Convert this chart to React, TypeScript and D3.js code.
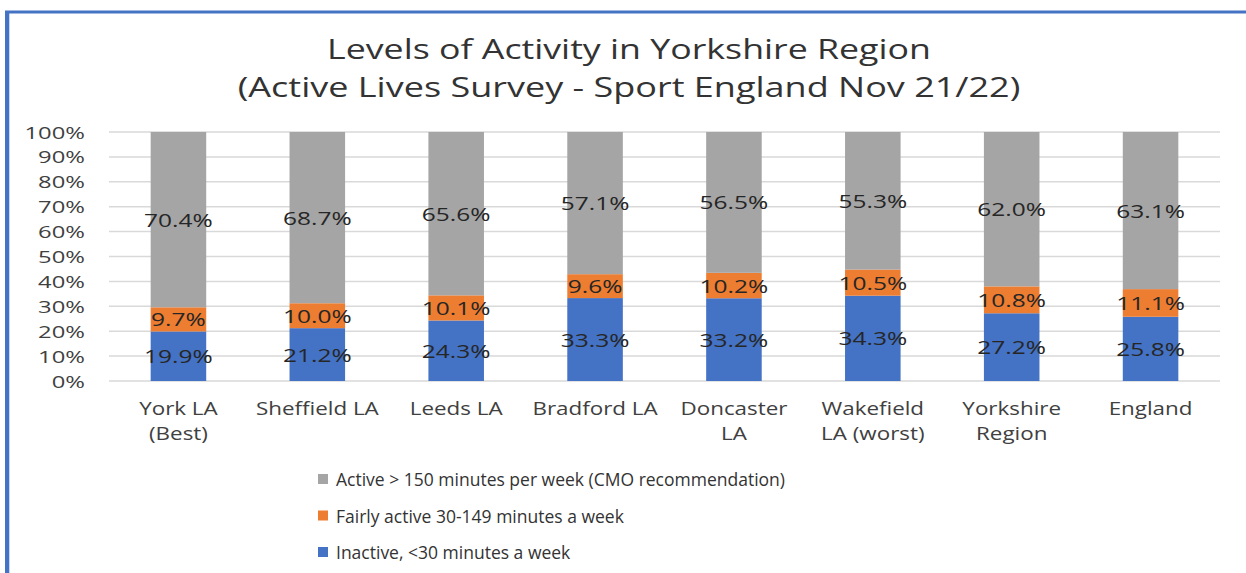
import * as d3 from 'd3';

// Levels of activity, Active Lives Survey (Sport England Nov 21/22)
const categories = [
  ['York LA', '(Best)'],
  ['Sheffield LA'],
  ['Leeds LA'],
  ['Bradford LA'],
  ['Doncaster', 'LA'],
  ['Wakefield', 'LA (worst)'],
  ['Yorkshire', 'Region'],
  ['England'],
];
const inactive = [19.9, 21.2, 24.3, 33.3, 33.2, 34.3, 27.2, 25.8];
const fairlyActive = [9.7, 10.0, 10.1, 9.6, 10.2, 10.5, 10.8, 11.1];
const active = [70.4, 68.7, 65.6, 57.1, 56.5, 55.3, 62.0, 63.1];
const yTicks = [0, 0.1, 0.2, 0.3, 0.4, 0.5, 0.6, 0.7, 0.8, 0.9, 1];

const seriesKeys = ['inactive', 'fairly', 'active'];
const seriesNames = {
  active: 'Active > 150 minutes per week (CMO recommendation)',
  fairly: 'Fairly active 30-149 minutes a week',
  inactive: 'Inactive, <30 minutes a week',
};
const colors = { inactive: '#4472c4', fairly: '#ed7d31', active: '#a5a5a5' };
const legendOrder = ['active', 'fairly', 'inactive'];

const W = 1246;
const H = 573;
const FONT = '"Open Sans", sans-serif';
const margin = { left: 109, right: 26, top: 132, bottom: 192 };

// stretched text like the original
const T = ({ x, y, sx = 1.3, size = 17, anchor = 'middle', fill = '#404040', children }) => (
  <text
    transform={`translate(${x},${y}) scale(${sx},1)`}
    textAnchor={anchor}
    dominantBaseline="central"
    fontFamily={FONT}
    fontSize={size}
    fill={fill}
  >
    {children}
  </text>
);

export default function App() {
  const rows = categories.map((c, i) => ({
    name: c.join(' '),
    inactive: inactive[i],
    fairly: fairlyActive[i],
    active: active[i],
  }));

  const stacked = d3.stack().keys(seriesKeys).offset(d3.stackOffsetExpand)(rows);

  const x = d3.scaleBand()
    .domain(rows.map(d => d.name))
    .range([margin.left, W - margin.right])
    .paddingInner(0.6)
    .paddingOuter(0.3);

  const y = d3.scaleLinear()
    .domain([0, 1])
    .range([H - margin.bottom, margin.top]);

  const fmt = d3.format('.0%');

  return (
    <div style={{ position: 'absolute', left: 0, top: 0 }}>
      <svg width={W} height={H} style={{ display: 'block', background: '#fff' }}>
        {/* frame */}
        <line x1={7} x2={7} y1={11} y2={H} stroke="#4472c4" strokeWidth={4} />
        <line x1={9.5} x2={9.5} y1={13} y2={H} stroke="#c9d6ef" strokeWidth={1} />
        <line x1={5} x2={W} y1={12} y2={12} stroke="#4472c4" strokeWidth={3} />

        {/* title */}
        <T x={629} y={48} size={27.5} sx={1.3} fill="#333">Levels of Activity in Yorkshire Region</T>
        <T x={629} y={86} size={27.5} sx={1.31} fill="#333">(Active Lives Survey - Sport England Nov 21/22)</T>

        {/* grid + y axis */}
        {yTicks.map(t => (
          <g key={t}>
            <line
              x1={margin.left}
              x2={W - margin.right}
              y1={y(t)}
              y2={y(t)}
              stroke="#d9d9d9"
              strokeWidth={1.5}
            />
            <T x={85} y={y(t)} anchor="end" sx={1.4}>{fmt(t)}</T>
          </g>
        ))}

        {/* bars */}
        {stacked.map(s => (
          <g key={s.key} fill={colors[s.key]}>
            {s.map((d, i) => (
              <rect
                key={i}
                x={x(rows[i].name)}
                y={y(d[1])}
                width={x.bandwidth()}
                height={y(d[0]) - y(d[1])}
              />
            ))}
          </g>
        ))}

        {/* data labels */}
        {stacked.map(s => (
          <g key={s.key + '-lbl'}>
            {s.map((d, i) => (
              <T
                key={i}
                x={x(rows[i].name) + x.bandwidth() / 2}
                y={y((d[0] + d[1]) / 2)}
                sx={1.4}
                size={17.5}
                fill="#262626"
              >
                {rows[i][s.key].toFixed(1) + '%'}
              </T>
            ))}
          </g>
        ))}

        {/* x labels */}
        {categories.map((c, i) => (
          <g key={i}>
            {c.map((line, j) => (
              <T
                key={j}
                x={x(rows[i].name) + x.bandwidth() / 2}
                y={408 + j * 25}
                size={17.5}
                sx={1.28}
              >
                {line}
              </T>
            ))}
          </g>
        ))}

        {/* legend */}
        {legendOrder.map((k, i) => (
          <g key={k}>
            <rect x={318} y={474 + i * 36.5} width={10} height={10} fill={colors[k]} />
            <T x={336} y={479 + i * 36.5} anchor="start" size={17.5} sx={1.0} fill="#333">{seriesNames[k]}</T>
          </g>
        ))}
      </svg>
    </div>
  );
}
